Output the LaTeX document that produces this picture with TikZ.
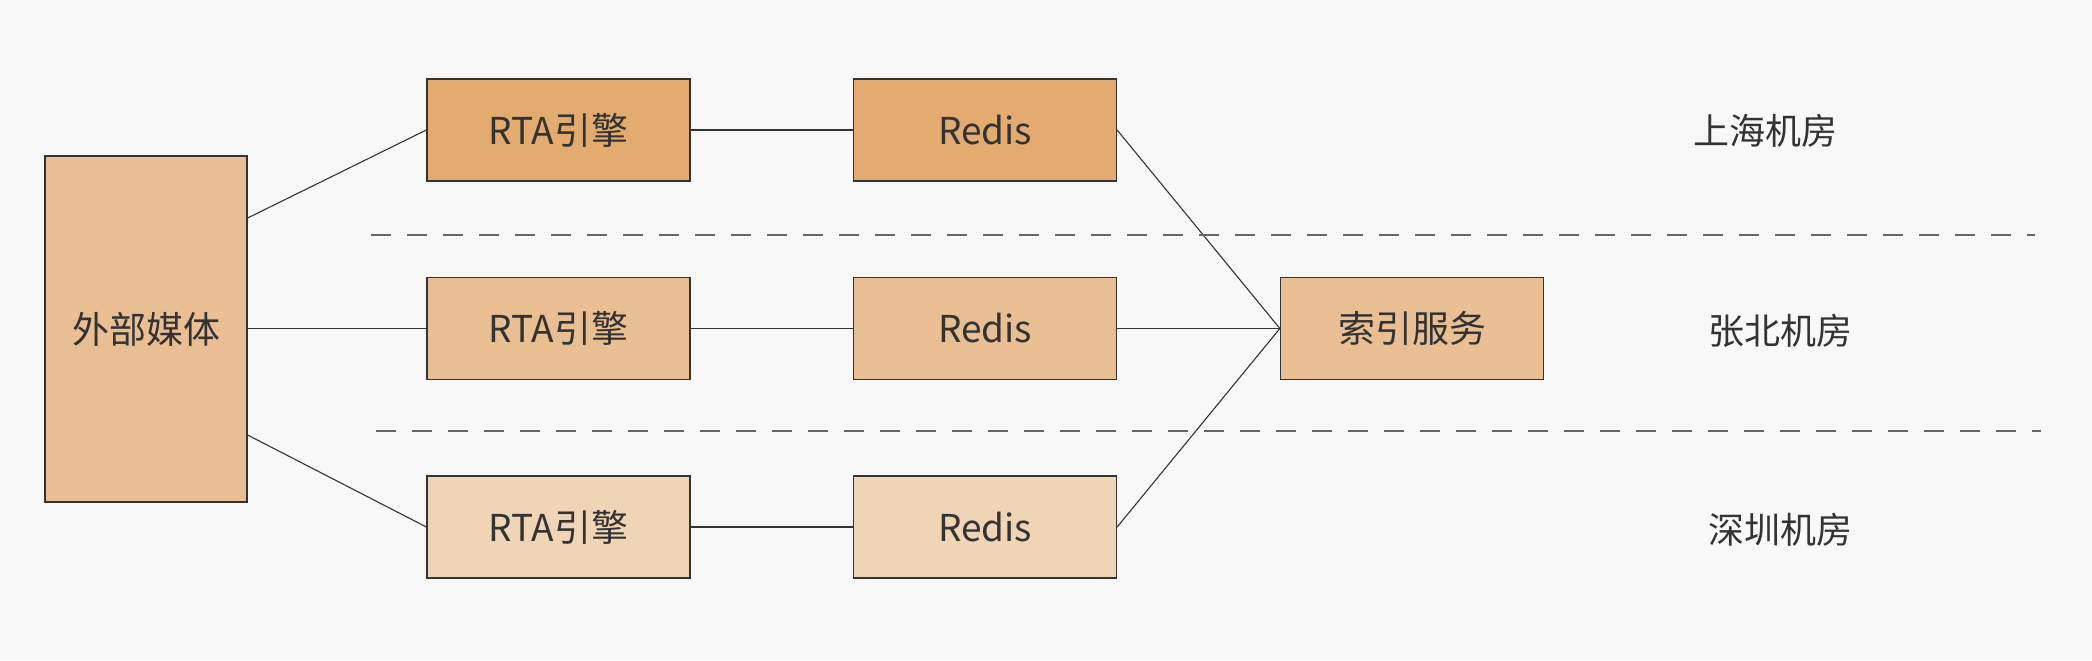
\documentclass[tikz,border=0pt]{standalone}
\usepackage{fontspec}
\setmainfont{Noto Sans CJK SC}
\definecolor{bg}{HTML}{F8F8F8}
\definecolor{cdark}{HTML}{E3AB70}
\definecolor{cmid}{HTML}{E8BE92}
\definecolor{clight}{HTML}{EFD4B6}
\definecolor{edge}{HTML}{333333}
\definecolor{txt}{HTML}{333333}
\definecolor{dashc}{HTML}{666666}
\begin{document}
\begin{tikzpicture}[x=0.5pt,y=-0.5pt,
  box/.style={draw=edge,line width=0.65pt,inner sep=0pt,text=txt,
    font=\fontsize{18.5}{22}\selectfont},
  wbox/.style={box,minimum width=131.5pt,minimum height=51pt},
  lbl/.style={text=txt,font=\fontsize{18}{22}\selectfont,inner sep=0pt},
  link/.style={draw=edge,line width=0.55pt},
  sep/.style={draw=dashc,line width=0.7pt,dash pattern=on 10pt off 8pt}]
\fill[bg] (0,0) rectangle (2092,660);
\useasboundingbox (0,0) rectangle (2092,660);

\node[box,fill=cmid,minimum width=101pt,minimum height=173pt] (ext) at (146,329) {外部媒体};

\node[wbox,fill=cdark] (rta1) at (558.5,130) {RTA引擎};
\node[wbox,fill=cmid] (rta2) at (558.5,328.5) {RTA引擎};
\node[wbox,fill=clight] (rta3) at (558.5,527) {RTA引擎};

\node[wbox,fill=cdark] (red1) at (985,130) {Redis};
\node[wbox,fill=cmid] (red2) at (985,328.5) {Redis};
\node[wbox,fill=clight] (red3) at (985,527) {Redis};

\node[wbox,fill=cmid] (idx) at (1412,328.5) {索引服务};

\node[lbl] (l1) at (1765,131) {上海机房};
\node[lbl] (l2) at (1780,331) {张北机房};
\node[lbl] (l3) at (1780,530) {深圳机房};

\coordinate (e1) at (ext.east |- 0,218);
\coordinate (e3) at (ext.east |- 0,435);

\draw[link] (e1) -- (rta1.west);
\draw[link] (ext.east |- rta2.west) -- (rta2.west);
\draw[link] (e3) -- (rta3.west);

\draw[link] (rta1.east) -- (red1.west);
\draw[link] (rta2.east) -- (red2.west);
\draw[link] (rta3.east) -- (red3.west);

\draw[link] (red1.east) -- (idx.west);
\draw[link] (red2.east) -- (idx.west);
\draw[link] (red3.east) -- (idx.west);

\coordinate (d1a) at (371,235);
\coordinate (d1b) at (2035,235);
\coordinate (d2a) at (376,431);
\coordinate (d2b) at (2041,431);
\draw[sep] (d1a) -- (d1b);
\draw[sep] (d2a) -- (d2b);
\end{tikzpicture}
\end{document}
